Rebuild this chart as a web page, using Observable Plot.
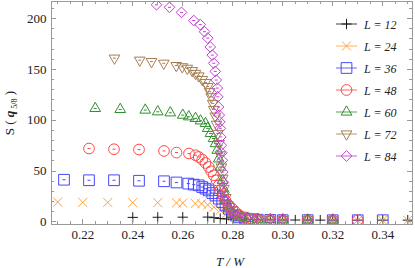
<!DOCTYPE html>
<html><head><meta charset="utf-8">
<script src="https://cdn.jsdelivr.net/npm/d3@7"></script>
<script src="https://cdn.jsdelivr.net/npm/@observablehq/plot@0.6"></script>
<style>body{margin:0;background:#fff;} #chart{width:415px;height:268px;}</style>
</head><body><div id="chart"></div>
<script>
// ---- data ----
const labels = ["L = 12", "L = 24", "L = 36", "L = 48", "L = 60", "L = 72", "L = 84"];

const T12 = [0.24,0.25,0.26,0.27,0.2725,0.275,0.2775,0.28,0.285,0.29,0.295,0.30,0.305,0.31,0.315,0.32,0.33,0.34,0.35];
const S12 = [4.5,4.6,4.7,4.8,4.2,3.4,2.9,2.5,2.2,2.0,2.0,1.9,1.9,1.9,1.8,1.8,1.8,1.8,1.8];

const T24 = [0.21,0.22,0.23,0.24,0.25,0.2575,0.26,0.265,0.2675,0.27,0.2725,0.275,0.2775,0.28,0.2825,0.285,0.29,0.295,0.30,0.31,0.32,0.33,0.34,0.35];
const S24 = [19.5,19.3,19.2,19.0,19.0,18.8,18.6,18.2,17.8,16.8,14.5,11.5,8.0,5.5,3.5,2.7,2.0,1.8,1.7,1.6,1.6,1.6,1.6,1.6];

const T36 = [0.2125,0.2225,0.2325,0.2425,0.2525,0.2575,0.2622,0.2644,0.2664,0.2678,0.2691,0.2704,0.2718,0.2731,0.2744,0.2758,0.2771,0.2784,0.2798,0.2811,0.2825,0.285,0.2875,0.29,0.295,0.30,0.31,0.32,0.33,0.34];
const S36 = [41.5,41.0,41.0,40.5,40.0,38.8,37.7,36.7,36.0,34.3,32.7,31.0,28.4,26.0,22.9,19.5,16.3,13.0,9.7,6.4,4.5,3.2,2.6,2.2,2.0,1.8,1.8,1.7,1.7,1.7];

const T48 = [0.2225,0.2325,0.2425,0.2525,0.2575,0.2625,0.2651,0.2664,0.2678,0.2691,0.2704,0.2714,0.2724,0.2735,0.2744,0.275,0.2762,0.2771,0.2784,0.2798,0.2811,0.2825,0.285,0.2875,0.29,0.295,0.30,0.31,0.32,0.33];
const S48 = [72.2,71.5,71.2,69.8,68.2,67.3,65.6,63.9,61.3,58.0,54.0,49.8,45.9,40.9,36.0,31.0,26.0,21.2,16.3,13.0,9.7,7.0,4.5,3.2,2.6,2.2,2.0,1.9,1.8,1.8];

const T60 = [0.225,0.235,0.245,0.25,0.255,0.26,0.2624,0.2651,0.2671,0.2691,0.27,0.2711,0.2723,0.2731,0.2738,0.2744,0.2751,0.2759,0.2763,0.277,0.2783,0.2799,0.2815,0.2835,0.286,0.29,0.295,0.30,0.31,0.32];
const S60 = [111.6,110.6,110.0,108.3,107.3,105.0,103.4,101.8,99.4,96.8,92.0,87.0,82.0,77.0,70.5,62.0,54.0,41.0,32.7,21.0,13.0,8.0,6.0,4.5,3.5,2.8,2.4,2.2,2.0,2.0];

const T72 = [0.2327,0.2428,0.2475,0.2524,0.2574,0.2598,0.2618,0.2638,0.2651,0.2664,0.2678,0.2691,0.27,0.2708,0.2714,0.272,0.2724,0.273,0.2735,0.274,0.2745,0.275,0.2755,0.276,0.2765,0.2772,0.278,0.279,0.2805,0.2825,0.285,0.2875,0.29,0.295,0.30,0.31,0.32];
const S72 = [161,159,157.6,156,153.7,152.5,151,148.7,146,143.5,140,137,133,128,123,116.5,110.6,104,96,87,77,66,54,43,33,24,17,12,8.5,6,4.5,3.5,3.0,2.5,2.3,2.1,2.0];

const T84 = [0.2495,0.2547,0.2595,0.2644,0.267,0.2687,0.27,0.271,0.2718,0.2724,0.273,0.2734,0.2738,0.274,0.2743,0.2746,0.2748,0.275,0.2752,0.2754,0.2756,0.2758,0.276,0.2762,0.2765,0.277,0.278,0.2795,0.281,0.283,0.2855,0.29,0.295,0.30,0.31,0.32];
const S84 = [213.5,211,206,198,194,187,180.7,172,164,156,148,139.5,131.6,123,113,105,98.4,92,83.6,75.4,68,60.6,49,39,29,21,14.6,9.7,7,5,4,3.2,2.6,2.3,2.1,2.0];

const xTicks = [0.22,0.24,0.26,0.28,0.30,0.32,0.34];
const yTicks = [0,50,100,150,200];

// ---- styles ----
const colors = ["#1a1a1a","#ffa040","#4646ff","#ff4848","#2e8f2e","#a67d53","#c23fd0"];
const invTriangle = {draw(ctx, size){const s=Math.sqrt(size)*0.6824,t=s/2,u=s*Math.sqrt(3)/2;ctx.moveTo(0,s);ctx.lineTo(-u,-t);ctx.lineTo(u,-t);ctx.closePath();}};
const dashSym = {draw(ctx, size){const r=Math.sqrt(size)/2;ctx.moveTo(-r,0);ctx.lineTo(r,0);}};
const symbols = [d3.symbolPlus,d3.symbolTimes,d3.symbolSquare2,d3.symbolCircle,d3.symbolTriangle2,invTriangle,d3.symbolDiamond2];
const symSize = [36,55,146,90,82,82,73];
const hasDash = [false,false,true,true,true,true,true];

const Ts = [T12,T24,T36,T48,T60,T72,T84];
const Ss = [S12,S24,S36,S48,S60,S72,S84];

const marks = [Plot.frame({stroke:"#999", strokeWidth:1})];
Ts.forEach((T, i) => {
  const rows = T.map((t, j) => ({T: t, S: Ss[i][j]}));
  marks.push(Plot.dot(rows, {x:"T", y:"S", symbol: symbols[i], r: Math.sqrt(symSize[i]/Math.PI), stroke: colors[i], fill:"none", strokeWidth:1, clip:true}));
  if (hasDash[i]) marks.push(Plot.dot(rows, {x:"T", y:"S", symbol: dashSym, r: Math.sqrt(9/Math.PI), stroke: colors[i], strokeWidth:1, clip:true}));
});
marks.push(Plot.axisX({ticks: xTicks, tickSize:0, tickPadding:5, tickFormat: d3.format(".2f"), label:null}));
marks.push(Plot.axisY({ticks: yTicks, tickSize:0, tickPadding:5, label:null}));

const plot = Plot.plot({
  width:415, height:268,
  marginLeft:51, marginRight:3, marginTop:1, marginBottom:44,
  x:{domain:[0.2075,0.3519]},
  y:{domain:[-2.5,216.7]},
  style:{fontFamily:"'Liberation Serif', serif", fontSize:"13px", color:"#222", background:"#fff"},
  marks
});
document.getElementById("chart").appendChild(plot);

// ---- ticks on all four sides (inward) ----
const xs = plot.scale("x"), ys = plot.scale("y");
const svg = d3.select(plot);
const [x0, x1] = xs.range, [yb, yt] = ys.range;
const tg = svg.append("g").attr("stroke","#999").attr("stroke-width",1);
const xMinor = d3.range(0.21, 0.3516, 0.005).map(v => +v.toFixed(3));
xMinor.forEach(v => {
  const major = xTicks.some(t => Math.abs(t - v) < 1e-6);
  const L = major ? 5 : 3;
  const px = Math.round(xs.apply(v)) + 0.5;
  tg.append("line").attr("x1",px).attr("x2",px).attr("y1",yb).attr("y2",yb-L);
  tg.append("line").attr("x1",px).attr("x2",px).attr("y1",yt).attr("y2",yt+L);
});
d3.range(0, 217, 10).forEach(v => {
  const major = v % 50 === 0;
  const L = major ? 5 : 3;
  const py = Math.round(ys.apply(v)) + 0.5;
  tg.append("line").attr("x1",x0).attr("x2",x0+L).attr("y1",py).attr("y2",py);
  tg.append("line").attr("x1",x1).attr("x2",x1-L).attr("y1",py).attr("y2",py);
});

// ---- axis titles ----
const ylab = svg.append("text").attr("transform","translate(14,113) rotate(-90)")
  .attr("text-anchor","middle").attr("font-family","'Liberation Serif', serif").attr("font-size",13).attr("fill","#222");
ylab.append("tspan").text("S ( ");
ylab.append("tspan").attr("font-weight","bold").attr("font-style","italic").text("q");
ylab.append("tspan").attr("font-size",8).attr("dy",3).text(" 5/8");
ylab.append("tspan").attr("dy",-3).text(" )");
svg.append("text").attr("x",230).attr("y",266).attr("text-anchor","middle")
  .attr("font-family","'Liberation Serif', serif").attr("font-size",13).attr("font-style","italic").attr("fill","#222")
  .text("T / W");

// ---- legend ----
const lg = svg.append("g").attr("text-anchor","start");
labels.forEach((lab, i) => {
  const cy = 24 + 22 * i;
  lg.append("line").attr("x1",336).attr("x2",357).attr("y1",cy).attr("y2",cy)
    .attr("stroke",colors[i]).attr("stroke-opacity",0.55).attr("stroke-width",1.5);
  lg.append("path").attr("transform",`translate(346.5,${cy})`)
    .attr("d", d3.symbol().type(symbols[i]).size(symSize[i])())
    .attr("fill","none").attr("stroke",colors[i]).attr("stroke-width",1);
  lg.append("text").attr("x",364).attr("y",cy+4.5).attr("text-anchor","start")
    .attr("font-family","'Liberation Serif', serif").attr("font-size",12).attr("font-style","italic").attr("fill","#222")
    .text(lab);
});
</script>
</body></html>
